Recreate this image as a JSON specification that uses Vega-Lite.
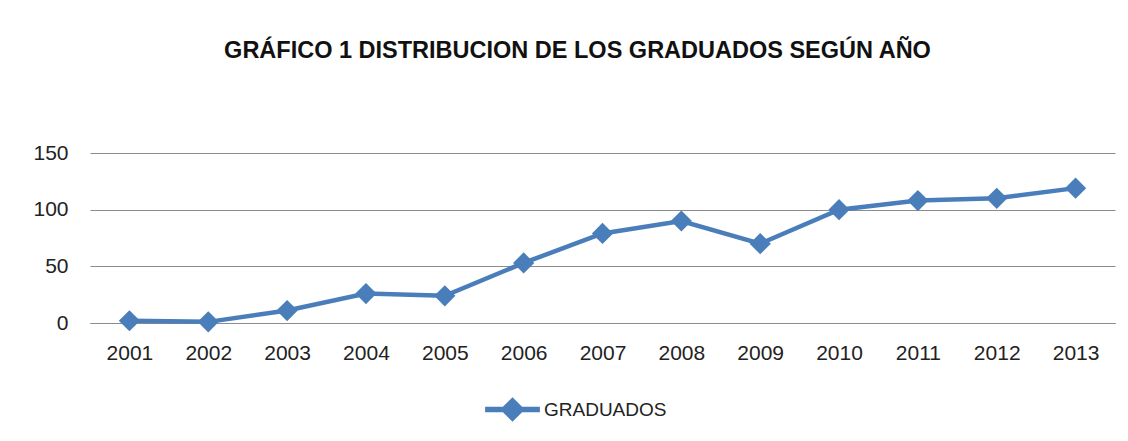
{
  "$schema": "https://vega.github.io/schema/vega-lite/v6.json",
  "autosize": "none",
  "width": 1025,
  "height": 170,
  "padding": {"left": 90, "top": 153, "right": 13, "bottom": 118},
  "background": "white",
  "title": {
    "text": "GRÁFICO 1 DISTRIBUCION  DE LOS GRADUADOS SEGÚN AÑO",
    "anchor": "middle",
    "dx": -25,
    "offset": 80,
    "font": "Liberation Sans",
    "fontSize": 23.5,
    "fontWeight": "bold",
    "color": "#111111"
  },
  "data": {
    "values": [
      {"anio": "2001", "graduados": 2, "serie": "GRADUADOS"},
      {"anio": "2002", "graduados": 1, "serie": "GRADUADOS"},
      {"anio": "2003", "graduados": 11, "serie": "GRADUADOS"},
      {"anio": "2004", "graduados": 26, "serie": "GRADUADOS"},
      {"anio": "2005", "graduados": 24, "serie": "GRADUADOS"},
      {"anio": "2006", "graduados": 53, "serie": "GRADUADOS"},
      {"anio": "2007", "graduados": 79, "serie": "GRADUADOS"},
      {"anio": "2008", "graduados": 90, "serie": "GRADUADOS"},
      {"anio": "2009", "graduados": 70, "serie": "GRADUADOS"},
      {"anio": "2010", "graduados": 100, "serie": "GRADUADOS"},
      {"anio": "2011", "graduados": 108, "serie": "GRADUADOS"},
      {"anio": "2012", "graduados": 110, "serie": "GRADUADOS"},
      {"anio": "2013", "graduados": 119, "serie": "GRADUADOS"}
    ]
  },
  "mark": {
    "type": "line",
    "strokeWidth": 4.5,
    "point": {"shape": "diamond", "size": 450, "filled": true, "opacity": 1}
  },
  "encoding": {
    "x": {
      "field": "anio",
      "type": "ordinal",
      "title": null,
      "scale": {"type": "point", "padding": 0.5},
      "axis": {
        "labelAngle": 0,
        "labelFont": "Liberation Sans",
        "labelFontSize": 21,
        "labelColor": "#222222",
        "labelPadding": 19,
        "ticks": false,
        "domain": true,
        "domainColor": "#8c8c8c",
        "domainWidth": 1.2,
        "grid": false
      }
    },
    "y": {
      "field": "graduados",
      "type": "quantitative",
      "title": null,
      "scale": {"domain": [0, 150], "nice": false, "zero": true},
      "axis": {
        "values": [0, 50, 100, 150],
        "labelFont": "Liberation Sans",
        "labelFontSize": 21,
        "labelColor": "#222222",
        "labelPadding": 22,
        "ticks": false,
        "domain": false,
        "grid": true,
        "gridColor": "#8c8c8c",
        "gridWidth": 1.2
      }
    },
    "color": {
      "field": "serie",
      "type": "nominal",
      "scale": {"range": ["#4A7EBB"]},
      "legend": {
        "title": null,
        "orient": "none",
        "legendX": 395,
        "legendY": 229,
        "symbolType": "M-1,-0.1L-0.35,-0.1L0,-0.45L0.35,-0.1L1,-0.1L1,0.1L0.35,0.1L0,0.45L-0.35,0.1L-1,0.1Z",
        "symbolSize": 3000,
        "symbolFillColor": "#4A7EBB",
        "symbolStrokeWidth": 0,
        "labelFont": "Liberation Sans",
        "labelFontSize": 19,
        "labelColor": "#222222",
        "labelOffset": 4
      }
    }
  },
  "config": {
    "view": {"stroke": null}
  }
}
